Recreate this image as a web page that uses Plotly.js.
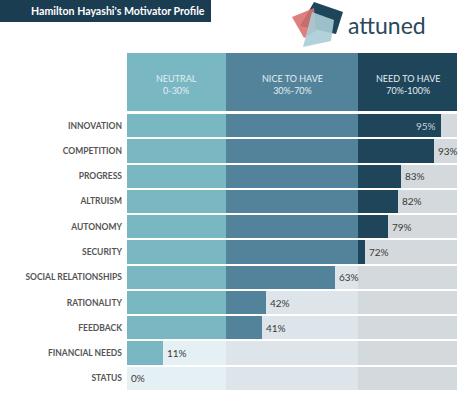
<!DOCTYPE html>
<html><head><meta charset="utf-8">
<script src="https://cdn.plot.ly/plotly-3.0.1.min.js"></script>
<style>html,body{margin:0;padding:0;background:#fff;}#c{width:474px;height:394px;}</style>
</head><body><div id="c"></div>
<script>
const categories = ["INNOVATION","COMPETITION","PROGRESS","ALTRUISM","AUTONOMY","SECURITY","SOCIAL RELATIONSHIPS","RATIONALITY","FEEDBACK","FINANCIAL NEEDS","STATUS"];
const scores = [95,93,83,82,79,72,63,42,41,11,0];
const zoneNames = ["NEUTRAL","NICE TO HAVE","NEED TO HAVE"];
const zoneRanges = ["0-30%","30%-70%","70%-100%"];
const zoneStart = [0,30,70];
const zoneEnd = [30,70,100];
const title = "Hamilton Hayashi's Motivator Profile";
const brand = "attuned";

const bgColors = ["#e5f0f4","#dde4ea","#d3d9dc"];
const barColors = ["#79b8c3","#52839b","#1e4559"];
const font = "Lato, 'Open Sans', sans-serif";
const W = 0.92;

const L=127,R=17,T=113,B=3,PW=474-L-R,PH=394-T-B;
const px=(x)=>(x-L)/PW, py=(y)=>1-(y-T)/PH;

const traces = [];
zoneStart.forEach((s,i)=>{
  traces.push({type:'bar',orientation:'h',y:categories,x:categories.map(()=>zoneEnd[i]-s),base:s,
    marker:{color:bgColors[i]},width:W,hoverinfo:'skip',showlegend:false});
});
zoneStart.forEach((s,i)=>{
  traces.push({type:'bar',orientation:'h',y:categories,
    x:scores.map(v=>Math.max(0,Math.min(v,zoneEnd[i])-s)),base:s,
    marker:{color:barColors[i]},width:W,showlegend:false});
});

const annotations = scores.map((v,i)=>{
  const inside = v>=95;
  return {x:v,y:categories[i],xref:'x',yref:'y',text:v+'%',showarrow:false,
    xanchor: inside?'right':'left', xshift: inside?-3:2,
    font:{family:font,size:10,color: inside?'#c6d4da':'#3a3a3a'}};
});
zoneStart.forEach((s,i)=>{
  annotations.push({x:(s+zoneEnd[i])/2,y:py(84.5),xref:'x',yref:'paper',yanchor:'middle',
    text:zoneNames[i]+'<br>'+zoneRanges[i],showarrow:false,align:'center',
    font:{family:font,size:9,color:'#e2eef1'}});
});
annotations.push({x:px(207),y:py(11),xref:'paper',yref:'paper',xanchor:'right',yanchor:'middle',
  text:'<b>'+title+'</b>',showarrow:false,font:{family:font,size:10.6,color:'#ffffff'}});
annotations.push({x:px(346),y:py(25),xref:'paper',yref:'paper',xanchor:'left',yanchor:'middle',
  text:brand,showarrow:false,font:{family:"Lato, sans-serif",size:23,color:'#2a4859'}});

function poly(pts,color,op){
  let d='M'+pts.map(p=>px(p[0])+','+py(p[1])).join(' L')+' Z';
  return {type:'path',xref:'paper',yref:'paper',path:d,fillcolor:color,opacity:op,line:{width:0},layer:'above'};
}
const shapes=[
  {type:'rect',xref:'paper',yref:'paper',x0:px(0),x1:px(211),y0:py(0),y1:py(22),fillcolor:'#1b3d52',line:{width:0}},
];
zoneStart.forEach((s,i)=>{
  shapes.push({type:'rect',xref:'x',yref:'paper',x0:s,x1:zoneEnd[i],y0:py(53),y1:py(111),fillcolor:barColors[i],line:{width:0}});
});
shapes.push(poly([[314,2],[343,12],[336,34],[300,26]],'#1e4559',1));
shapes.push(poly([[292,17],[314,8],[316,31],[304,38]],'#d9716f',0.9));
shapes.push(poly([[312,12],[334,20],[331,41],[303,47]],'#a9cdd6',0.9));

const layout={width:474,height:394,margin:{l:L,r:R,t:T,b:B},barmode:'overlay',bargap:0,
  paper_bgcolor:'#ffffff',plot_bgcolor:'#ffffff',
  xaxis:{range:[0,100],showgrid:false,zeroline:false,showticklabels:false,fixedrange:true},
  yaxis:{type:'category',autorange:'reversed',showgrid:false,zeroline:false,ticks:'',ticklabelstandoff:4,
    tickfont:{family:font,size:8.5,color:'#555555',weight:'bold'}},
  annotations:annotations,shapes:shapes,font:{family:font}};
Plotly.newPlot('c',traces,layout,{displayModeBar:false,staticPlot:true});
</script></body></html>
